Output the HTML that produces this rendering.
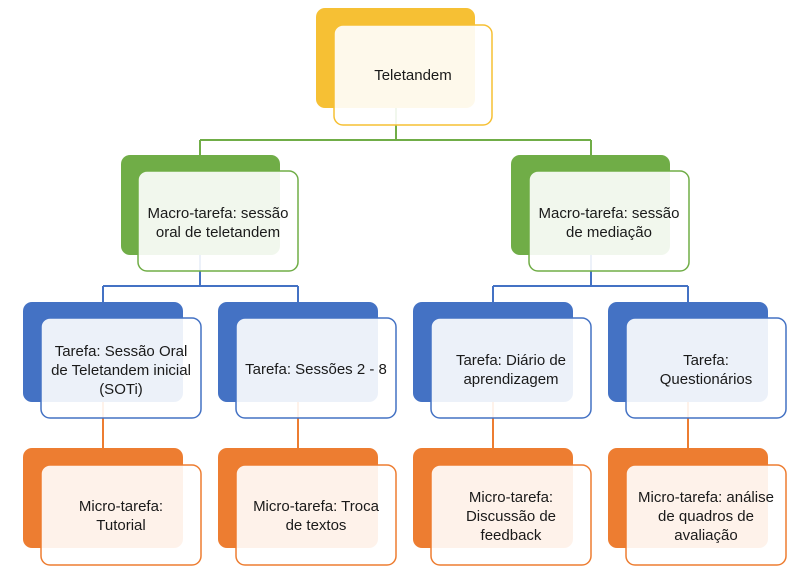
<!DOCTYPE html>
<html><head><meta charset="utf-8"><style>
html,body{margin:0;padding:0;background:#fff;}
svg{display:block;}
text{font-family:"Liberation Sans",sans-serif;font-size:15px;fill:#1a1a1a;text-anchor:middle;}
</style></head><body>
<svg width="802" height="572" viewBox="0 0 802 572" xmlns="http://www.w3.org/2000/svg">
<g fill="none" stroke-width="2">
<path d="M396 108 V140 M200 140 H591 M200 140 V155 M591 140 V155" stroke="#70AD47"/>
<path d="M200 255 V286 M103 286 H298 M103 286 V302 M298 286 V302" stroke="#4472C4"/>
<path d="M591 255 V286 M493 286 H688 M493 286 V302 M688 286 V302" stroke="#4472C4"/>
<path d="M103 402 V448 M298 402 V448 M493 402 V448 M688 402 V448" stroke="#ED7D31"/>
</g>
<rect x="316" y="8" width="159" height="100" rx="9" fill="#F6C034"/>
<rect x="121" y="155" width="159" height="100" rx="9" fill="#70AD47"/>
<rect x="511" y="155" width="159" height="100" rx="9" fill="#70AD47"/>
<g fill="#4472C4">
<rect x="23" y="302" width="160" height="100" rx="9"/>
<rect x="218" y="302" width="160" height="100" rx="9"/>
<rect x="413" y="302" width="160" height="100" rx="9"/>
<rect x="608" y="302" width="160" height="100" rx="9"/>
</g>
<g fill="#ED7D31">
<rect x="23" y="448" width="160" height="100" rx="9"/>
<rect x="218" y="448" width="160" height="100" rx="9"/>
<rect x="413" y="448" width="160" height="100" rx="9"/>
<rect x="608" y="448" width="160" height="100" rx="9"/>
</g>
<g fill="#fff" fill-opacity="0.9" stroke-width="1.5">
<rect x="334" y="25" width="158" height="100" rx="9" stroke="#F6C034"/>
<rect x="138" y="171" width="160" height="100" rx="9" stroke="#70AD47"/>
<rect x="529" y="171" width="160" height="100" rx="9" stroke="#70AD47"/>
<rect x="41" y="318" width="160" height="100" rx="9" stroke="#4472C4"/>
<rect x="236" y="318" width="160" height="100" rx="9" stroke="#4472C4"/>
<rect x="431" y="318" width="160" height="100" rx="9" stroke="#4472C4"/>
<rect x="626" y="318" width="160" height="100" rx="9" stroke="#4472C4"/>
<rect x="41" y="465" width="160" height="100" rx="9" stroke="#ED7D31"/>
<rect x="236" y="465" width="160" height="100" rx="9" stroke="#ED7D31"/>
<rect x="431" y="465" width="160" height="100" rx="9" stroke="#ED7D31"/>
<rect x="626" y="465" width="160" height="100" rx="9" stroke="#ED7D31"/>
</g>
<text x="413" y="80">Teletandem</text>
<text x="218" y="218">Macro-tarefa: sessão</text>
<text x="218" y="237">oral de teletandem</text>
<text x="609" y="218">Macro-tarefa: sessão</text>
<text x="609" y="237">de mediação</text>
<text x="121" y="356">Tarefa: Sessão Oral</text>
<text x="121" y="375">de Teletandem inicial</text>
<text x="121" y="394">(SOTi)</text>
<text x="316" y="374">Tarefa: Sessões 2 - 8</text>
<text x="511" y="365">Tarefa: Diário de</text>
<text x="511" y="384">aprendizagem</text>
<text x="706" y="365">Tarefa:</text>
<text x="706" y="384">Questionários</text>
<text x="121" y="511">Micro-tarefa:</text>
<text x="121" y="530">Tutorial</text>
<text x="316" y="511">Micro-tarefa: Troca</text>
<text x="316" y="530">de textos</text>
<text x="511" y="502">Micro-tarefa:</text>
<text x="511" y="521">Discussão de</text>
<text x="511" y="540">feedback</text>
<text x="706" y="502">Micro-tarefa: análise</text>
<text x="706" y="521">de quadros de</text>
<text x="706" y="540">avaliação</text>
</svg>
</body></html>
